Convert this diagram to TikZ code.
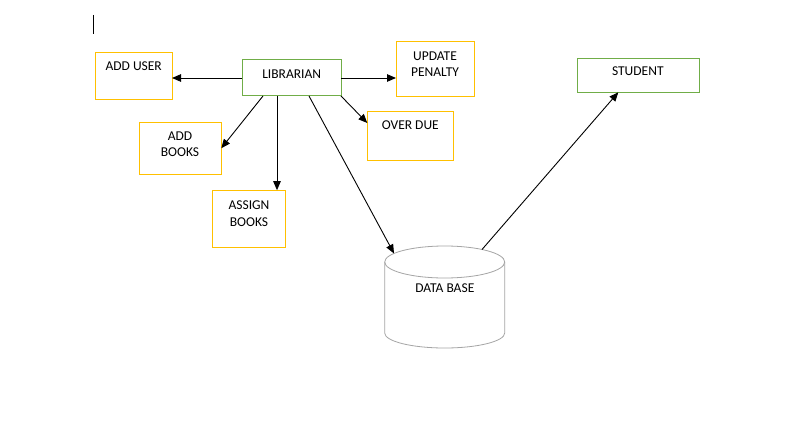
\documentclass[tikz,border=0pt]{standalone}
\usepackage{fontspec}
\setmainfont{Carlito}
\usetikzlibrary{arrows.meta,calc}
\definecolor{boxyellow}{HTML}{FFC000}
\definecolor{boxgreen}{HTML}{70AD47}
\definecolor{dbgray}{HTML}{A5A5A5}
\begin{document}
\begin{tikzpicture}[x=1pt,y=-1pt,
  ybox/.style={draw=boxyellow, line width=1pt, inner sep=0pt, outer sep=0pt},
  gbox/.style={draw=boxgreen, line width=1pt, inner sep=0pt, outer sep=0pt},
  txt/.style={inner sep=0pt, outer sep=0pt, font=\fontsize{13.5}{16.5}\selectfont, align=center},
  conn/.style={draw=black, line width=0.9pt, -{Triangle[length=9pt,width=7.5pt]}}]
\useasboundingbox[fill=white] (0,0) rectangle (799,425);
% cursor
\coordinate (cur1) at (93,15);
\coordinate (cur2) at (93,34);
\draw[line width=1pt] (cur1) -- (cur2);
% boxes
\node[ybox, minimum width=77pt, minimum height=47pt] (adduser) at (133.5,76.5) {};
\node[gbox, minimum width=99pt, minimum height=36pt] (lib) at (291.5,78) {};
\node[ybox, minimum width=78pt, minimum height=55pt] (upd) at (435,69.5) {};
\node[ybox, minimum width=86pt, minimum height=49pt] (over) at (410.3,135.5) {};
\node[ybox, minimum width=82pt, minimum height=52pt] (addbooks) at (180.3,148.2) {};
\node[ybox, minimum width=73pt, minimum height=57pt] (assign) at (248.8,218.7) {};
\node[gbox, minimum width=122pt, minimum height=34pt] (student) at (638.3,75.3) {};
% texts
\node[txt, anchor=base] (adduser-t) at (133.7,71) {ADD USER};
\node[txt, anchor=base] (lib-t) at (291.7,78.3) {LIBRARIAN};
\node[txt, anchor=north] (upd-t) at (435,51.5) {UPDATE\\PENALTY};
\node[txt, anchor=base] (over-t) at (410.3,129) {OVER DUE};
\node[txt, anchor=north] (addbooks-t) at (180,131.5) {ADD\\BOOKS};
\node[txt, anchor=north] (assign-t) at (249,200.8) {ASSIGN\\BOOKS};
\node[txt, anchor=base] (student-t) at (637.8,76) {STUDENT};
% database cylinder
\coordinate (dbc) at (444.7,262);
\draw[dbgray, line width=0.8pt] ($(dbc)+(-60,0)$) -- ($(dbc)+(-60,71)$)
  arc[start angle=180, end angle=0, x radius=60, y radius=15] -- ($(dbc)+(60,0)$);
\draw[dbgray, line width=0.8pt] (dbc) ellipse[x radius=60, y radius=16];
\node[txt, anchor=base] (db-t) at (444.8,292.3) {DATA BASE};
\coordinate (dbin) at ($(dbc)+(-50.7,-8.5)$);
\coordinate (dbout) at ($(dbc)+(37.3,-12.5)$);
% connector start points on LIBRARIAN
\coordinate (libB) at ($(lib.south west)+(21,0)$);
\coordinate (libA) at ($(lib.south west)+(35,0)$);
\coordinate (libD) at ($(lib.south west)+(67,0)$);
\coordinate (overIn) at ($(over.north west)+(0,12)$);
\coordinate (stuIn) at ($(student.south west)+(41,0)$);
% connectors
\draw[conn] (lib.west) -- (lib.west -| adduser.east);
\draw[conn] (lib.east) -- (lib.east -| upd.west);
\draw[conn] (lib.south east) -- (overIn);
\draw[conn] (libB) -- (addbooks.east);
\draw[conn] (libA) -- (libA |- assign.north);
\draw[conn] (libD) -- (dbin);
\draw[conn] (dbout) -- (stuIn);
\end{tikzpicture}
\end{document}
